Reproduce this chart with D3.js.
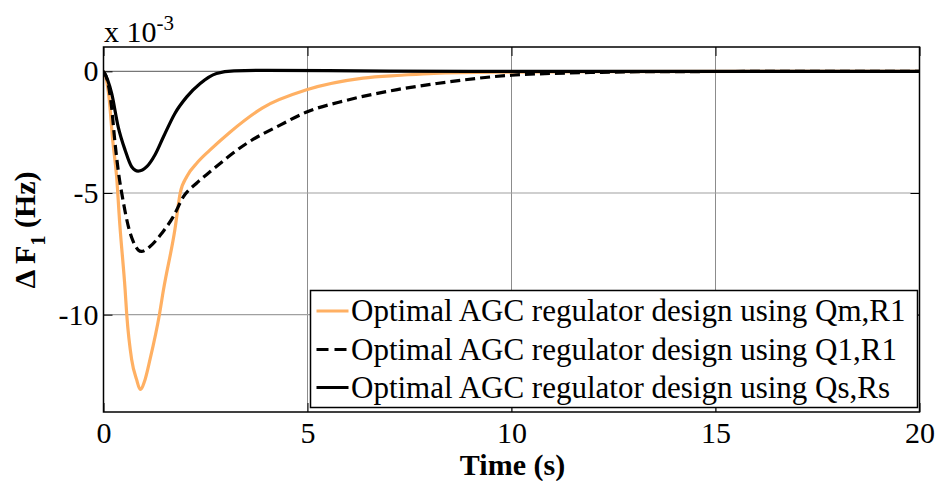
<!DOCTYPE html>
<html>
<head>
<meta charset="utf-8">
<script src="https://cdn.jsdelivr.net/npm/d3@7"></script>
<style>
  html, body { margin: 0; padding: 0; background: #fff; }
  text { font-family: "Liberation Serif", "Times New Roman", serif; }
</style>
</head>
<body>
<svg id="chart" width="941" height="481"></svg>
<script>
// ---- data (values in units of 1e-3 Hz) ----
const tQm = [0, 0.05, 0.13, 0.23, 0.32, 0.40, 0.53, 0.57, 0.69, 0.81, 0.90, 1.02, 1.14, 1.37, 1.47, 1.75, 1.88, 2.05, 2.3, 2.6, 3.1, 3.9, 5.0, 6.36, 7.3, 8.1, 10, 12, 20];
const vQm = [0, -0.2, -1.0, -2.9, -4.3, -6.3, -8.98, -10, -11.84, -12.66, -13.07, -12.66, -11.84, -10, -8.98, -6.5, -5.0, -4.3, -3.75, -3.25, -2.5, -1.5, -0.75, -0.28, -0.16, -0.08, -0.03, -0.01, 0];

const tQ1 = [0, 0.1, 0.2, 0.28, 0.36, 0.49, 0.61, 0.73, 0.85, 0.93, 1.14, 1.43, 1.71, 1.96, 2.28, 2.61, 3.51, 4.33, 4.98, 5.96, 7.2, 8.17, 10, 12.2, 14, 20];
const vQ1 = [0, -0.4, -1.5, -2.9, -4.06, -5.41, -6.38, -7.0, -7.34, -7.4, -7.2, -6.65, -5.97, -5.15, -4.6, -4.13, -2.96, -2.21, -1.67, -1.19, -0.75, -0.5, -0.16, -0.04, -0.01, 0];

const tQs = [0, 0.1, 0.2, 0.36, 0.53, 0.69, 0.85, 1.06, 1.26, 1.47, 1.75, 2.04, 2.37, 2.77, 3.2, 4.0, 5.5, 7.0, 9.0, 20];
const vQs = [0, -0.35, -0.91, -2.28, -3.24, -3.92, -4.1, -3.92, -3.44, -2.69, -1.73, -1.05, -0.5, -0.09, 0.02, 0.04, 0.03, 0.01, 0, 0];

const xTicks = [0, 5, 10, 15, 20];
const yTicks = [0, -5, -10];
const legendLabels = [
  "Optimal AGC regulator design using Qm,R1",
  "Optimal AGC regulator design using Q1,R1",
  "Optimal AGC regulator design using Qs,Rs"
];

// ---- layout ----
const L = 103.5, R = 919.5, T = 47, B = 412;
const svg = d3.select("#chart");
const x = d3.scaleLinear().domain([0, 20]).range([L, R]);
const y = d3.scaleLinear().domain([-14, 1]).range([B, T]);

// grid
const grid = svg.append("g");
grid.selectAll("line.gx").data(xTicks.slice(1, -1)).enter().append("line")
  .attr("x1", d => x(d)).attr("x2", d => x(d)).attr("y1", T).attr("y2", B)
  .attr("stroke", "#8c8c8c").attr("stroke-width", 1);
grid.selectAll("line.gy").data(yTicks).enter().append("line")
  .attr("x1", L).attr("x2", R).attr("y1", d => y(d)).attr("y2", d => y(d))
  .attr("stroke", d => d === 0 ? "#777" : "#a0a0a0").attr("stroke-width", 1.2);

// axes with inward ticks
const tickLen = 9;
const axB = d3.axisBottom(x).tickValues(xTicks).tickSize(-tickLen).tickPadding(10).tickFormat(d3.format("d"));
const axT = d3.axisTop(x).tickValues(xTicks).tickSize(-tickLen).tickFormat("");
const axLft = d3.axisLeft(y).tickValues(yTicks).tickSize(-tickLen).tickPadding(5).tickFormat(d3.format("d"));
const axRgt = d3.axisRight(y).tickValues(yTicks).tickSize(-tickLen).tickFormat("");

function styleAxis(g) {
  g.select(".domain").remove();
  g.selectAll(".tick line").attr("stroke", "#000").attr("stroke-width", 1);
  g.selectAll(".tick text").attr("fill", "#000")
    .style("font-family", '"Liberation Serif", "Times New Roman", serif')
    .style("font-size", "30px");
}
svg.append("g").attr("transform", `translate(0,${B})`).call(axB).call(styleAxis)
  .selectAll(".tick text").attr("dy", "0.71em");
svg.append("g").attr("transform", `translate(0,${T})`).call(axT).call(styleAxis);
svg.append("g").attr("transform", `translate(${L},0)`).call(axLft).call(styleAxis)
  .selectAll(".tick text").text(d => d < 0 ? "-" + Math.abs(d) : d);
svg.append("g").attr("transform", `translate(${R},0)`).call(axRgt).call(styleAxis);

// curves
const line = d3.line().x(d => x(d[0])).y(d => y(d[1])).curve(d3.curveMonotoneX);
svg.append("clipPath").attr("id", "clip").append("rect")
  .attr("x", L).attr("y", T).attr("width", R - L).attr("height", B - T);
const plot = svg.append("g").attr("clip-path", "url(#clip)");
const series = [
  { t: tQm, v: vQm, color: "#ffb063", dash: null },
  { t: tQ1, v: vQ1, color: "#000", dash: "10,5" },
  { t: tQs, v: vQs, color: "#000", dash: null }
];
series.forEach(s => {
  plot.append("path")
    .datum(s.t.map((t, i) => [t, s.v[i]]))
    .attr("d", line)
    .attr("fill", "none")
    .attr("stroke", s.color)
    .attr("stroke-width", 3.2)
    .attr("stroke-dasharray", s.dash)
    .attr("stroke-linejoin", "round");
});

// box
svg.append("rect").attr("x", L).attr("y", T).attr("width", R - L).attr("height", B - T)
  .attr("fill", "none").attr("stroke", "#000").attr("stroke-width", 1.5);

// legend
const lg = svg.append("g");
lg.append("rect").attr("x", 310.5).attr("y", 290.5).attr("width", 607).attr("height", 117)
  .attr("fill", "#fff").attr("stroke", "#000").attr("stroke-width", 1.5);
const rowY = [311, 349.5, 387.5];
series.forEach((s, i) => {
  lg.append("line").attr("x1", 316.5).attr("x2", 348.5).attr("y1", rowY[i]).attr("y2", rowY[i])
    .attr("stroke", s.color).attr("stroke-width", 3.2).attr("stroke-dasharray", s.dash ? "12,6" : null);
  lg.append("text").attr("x", 351).attr("y", rowY[i] + 10)
    .attr("font-size", "31px").attr("fill", "#000").text(legendLabels[i]);
});

// axis labels
svg.append("text").attr("x", (L + R) / 2 + 1).attr("y", 475).attr("text-anchor", "middle")
  .attr("font-size", "30px").attr("font-weight", "bold").text("Time (s)");

const yl = svg.append("text").attr("transform", "translate(35,230) rotate(-90)")
  .attr("text-anchor", "middle").attr("font-size", "30px").attr("font-weight", "bold");
yl.append("tspan").text("Δ F");
yl.append("tspan").attr("font-size", "20px").attr("dy", 10).text("1");
yl.append("tspan").attr("dy", -10).text(" (Hz)");

// exponent
const ex = svg.append("text").attr("x", 104).attr("y", 42).attr("font-size", "30px");
ex.append("tspan").text("x 10");
ex.append("tspan").attr("font-size", "21px").attr("dy", -12).text("-3");
</script>
</body>
</html>
